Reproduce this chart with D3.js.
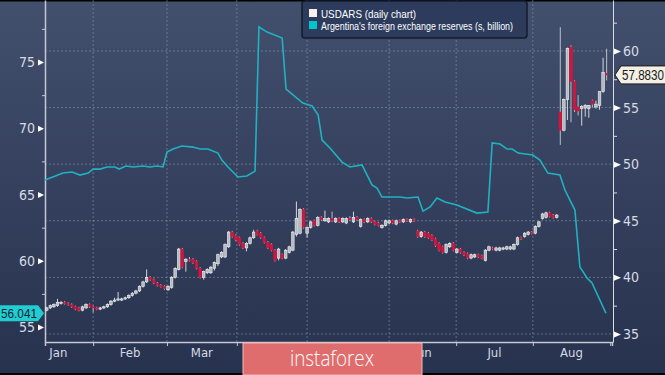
<!DOCTYPE html>
<html>
<head>
<meta charset="utf-8">
<script src="https://cdn.jsdelivr.net/npm/d3@7"></script>
<style>
  html, body { margin: 0; padding: 0; background: #000; }
  svg { display: block; }
  .ax text { font-family: "Liberation Sans Narrow", "DejaVu Sans Condensed", "Liberation Sans", sans-serif; fill: #d6dae2; }
</style>
</head>
<body>
<div id="chart"></div>
<script>
// USDARS daily candles [open, high, low, close], one row per trading day (right axis)
var usdars = [
  [37.1,37.4,37.0,37.3],[37.3,37.6,37.2,37.5],[37.4,37.7,37.3,37.6],[37.5,38.1,37.4,37.8],[37.7,37.9,37.6,37.8],
  [37.8,37.9,37.6,37.7],[37.7,37.8,37.5,37.6],[37.6,37.7,37.3,37.4],[37.4,37.5,37.1,37.2],[37.3,37.4,37.0,37.1],
  [37.1,37.5,37.0,37.4],[37.3,37.7,37.2,37.6],[37.6,37.7,37.3,37.4],[37.4,37.5,36.9,37.3],[37.3,37.4,37.1,37.2],
  [37.2,37.4,37.1,37.3],[37.3,37.5,37.2,37.4],[37.4,37.7,37.3,37.6],[37.6,38.0,37.5,37.9],[37.9,38.2,37.8,38.0],
  [38.0,38.7,37.9,38.1],[38.0,38.2,37.9,38.1],[38.1,38.3,38.0,38.2],[38.2,38.5,38.1,38.4],[38.4,38.7,38.3,38.6],
  [38.6,38.9,38.5,38.8],[38.8,39.3,38.7,39.2],[39.2,39.7,39.1,39.6],[39.6,40.7,39.5,40.0],[40.0,40.1,39.7,39.8],
  [39.8,39.9,39.4,39.5],[39.5,39.6,39.2,39.3],[39.3,39.4,39.1,39.2],[39.2,39.3,38.9,39.0],[38.9,39.3,38.8,39.2],
  [39.1,40.1,39.0,40.0],[40.0,40.9,39.9,40.8],[40.7,42.6,40.6,42.5],[42.5,42.6,40.8,40.9],[41.4,41.7,40.5,41.6],
  [41.6,41.8,41.4,41.5],[41.6,41.7,41.2,41.3],[41.4,41.5,40.7,40.8],[40.8,40.9,39.9,40.0],[40.0,40.6,39.8,40.5],
  [40.4,40.8,40.3,40.7],[40.4,41.0,40.3,40.9],[40.8,41.4,40.6,41.3],[41.2,42.1,41.0,42.0],[41.8,42.3,41.7,42.2],
  [41.8,43.0,41.7,42.9],[42.7,44.1,42.6,44.0],[44.0,44.1,43.5,43.6],[43.7,43.8,43.2,43.3],[43.5,43.6,42.8,42.9],
  [43.0,43.1,42.5,42.6],[42.6,43.1,42.3,43.0],[43.0,43.6,42.9,43.5],[43.5,44.2,43.4,44.0],[44.1,44.2,43.7,43.8],
  [43.9,44.0,43.4,43.5],[43.5,43.6,43.0,43.1],[43.1,43.2,42.5,42.6],[42.9,43.0,42.3,42.4],[42.4,42.5,41.4,41.5],
  [41.7,42.6,41.5,42.5],[42.0,42.1,41.6,41.7],[41.7,42.5,41.6,42.4],[42.2,42.8,42.1,42.7],[42.4,44.1,42.3,44.0],
  [43.8,46.7,43.6,45.2],[43.9,46.1,43.8,46.0],[46.0,46.1,44.3,44.4],[43.9,44.5,43.5,44.4],[44.4,45.0,44.3,44.9],
  [45.0,45.1,44.5,44.6],[44.6,45.4,44.5,45.3],[45.3,45.4,45.0,45.1],[45.0,45.9,44.9,45.2],[44.9,45.3,44.8,45.2],
  [45.2,45.8,44.9,45.0],[44.9,45.3,44.8,45.2],[45.2,45.3,44.8,44.9],[44.9,45.3,44.8,45.2],[44.8,45.3,44.7,45.2],
  [45.2,45.4,45.0,45.1],[44.9,45.8,44.8,45.3],[45.3,45.4,45.0,45.1],[44.5,45.2,44.4,45.1],[45.1,45.2,44.8,44.9],
  [44.9,45.3,44.8,45.2],[45.2,45.3,44.8,44.9],[44.9,45.0,44.6,44.7],[44.8,44.9,44.5,44.6],[44.4,44.7,44.3,44.6],
  [44.6,45.1,44.5,45.0],[44.8,45.1,44.7,45.0],[45.0,45.1,44.7,44.8],[44.7,45.1,44.6,45.0],[45.0,45.1,44.8,44.9],
  [44.9,45.2,44.8,45.1],[45.1,45.2,44.9,45.0],[44.9,45.2,44.8,45.1],[45.1,45.2,44.9,45.0],[44.1,44.2,43.5,43.6],
  [43.6,44.1,43.5,44.0],[44.0,44.1,43.5,43.6],[43.9,44.0,43.4,43.5],[43.7,43.8,43.2,43.3],[43.4,43.5,42.7,42.8],
  [43.0,43.1,42.3,42.4],[42.7,42.8,42.1,42.2],[42.2,43.0,42.1,42.9],[42.7,43.1,42.6,43.0],[43.0,43.1,42.3,42.4],
  [42.2,42.6,42.1,42.5],[42.5,42.6,42.1,42.2],[42.2,42.3,41.9,42.0],[42.1,42.2,41.6,41.7],[41.7,42.1,41.6,42.0],
  [41.8,42.1,41.7,42.0],[42.0,42.1,41.7,41.8],[41.9,42.0,41.6,41.7],[41.5,42.5,41.4,42.4],[42.4,42.8,42.3,42.7],
  [42.6,42.7,42.4,42.5],[42.4,42.7,42.3,42.6],[42.4,42.7,42.3,42.6],[42.5,42.7,42.4,42.6],[42.5,42.8,42.4,42.7],
  [42.5,42.8,42.4,42.7],[42.5,43.0,42.4,42.9],[42.9,43.6,42.8,43.5],[43.5,43.6,43.3,43.4],[43.6,44.0,43.5,43.9],
  [43.8,44.1,43.7,44.0],[44.0,44.1,43.8,43.9],[43.9,44.6,43.8,44.5],[44.5,45.0,44.4,44.9],[45.2,45.7,45.1,45.6],
  [45.3,45.8,45.2,45.7],[45.7,45.8,45.3,45.4],[45.5,45.6,45.2,45.3],[45.3,45.6,45.2,45.5],
  // August devaluation
  [54.6,62.1,51.7,53.0],[53.0,55.8,52.9,55.7],[55.7,60.3,53.9,60.2],[60.35,60.5,53.7,57.3],[57.3,57.4,54.6,54.8],
  [55.05,56.1,54.3,54.7],[54.9,55.2,53.4,55.1],[54.95,55.3,54.2,55.2],[54.9,55.2,54.1,55.2],[55.6,55.7,55.0,55.3],
  [55.05,55.6,54.9,55.3],[55.2,56.4,54.8,56.4],[56.4,59.4,56.3,58.1],[58.0,60.2,57.4,57.883]
];

// Argentina's FX reserves (left axis, USD bn) at trading-day positions
var resDay = [0,2.2,5.0,7.6,9.8,12.1,13.5,15.4,17.4,19.6,20.8,22.7,24.7,27.5,29.4,31.4,33.1,34.2,35.9,38.4,
  41.5,43.5,45.7,48.5,49.6,51.3,54.1,56.6,58.9,60.0,62.3,66.5,67.6,72.3,74.9,76.6,77.7,79.9,83.3,85.5,
  88.9,91.7,93.1,94.5,99.6,101.5,104.6,106.0,108.0,109.9,112.2,115.5,121.1,124.2,125.4,127.6,129.6,131.0,132.7,136.8,
  138.8,141.0,144.4,145.8,148.6,150.0,152.0,153.4,157.3];
var resVal = [66.09,66.32,66.62,66.70,66.47,66.62,66.92,66.92,67.08,67.08,66.92,67.15,67.08,67.15,67.08,67.15,67.08,68.2,68.43,68.66,
  68.58,68.43,68.43,68.13,67.6,67.08,66.32,66.40,66.77,77.64,77.26,76.81,72.96,71.9,71.68,71.0,69.11,68.51,67.45,67.08,
  67.23,65.72,65.49,64.81,64.81,64.74,64.81,63.75,64.06,64.74,64.43,64.21,63.60,63.68,68.89,68.81,68.43,68.43,68.13,67.98,
  67.6,66.62,66.47,65.34,63.83,59.53,58.7,58.32,56.04];

// axes
var dayDomain = [0, 159];
var leftDomain = [53.87, 79.68];
var rightDomain = [34.29, 64.5];
var leftTicks = [55, 60, 65, 70, 75];
var leftMinor = [57.5, 62.5, 67.5, 72.5, 77.5];
var rightTicks = [35, 40, 45, 50, 55, 60];
var rightMinor = [37.5, 42.5, 47.5, 52.5, 57.5, 62.5];
var monthTicks = [13.5, 34.2, 53.8, 73.5, 96.5, 115.3, 136.8, 158.5];
// Apr and May sit under the watermark in the original, so they have no label
var monthLabels = ["Jan", "Feb", "Mar", "", "", "Jun", "Jul", "Aug"];
var monthStarts = [-6, 13.5, 34.2, 53.8, 73.5, 96.5, 115.3, 136.8, 158.5];

var lastReserve = "56.041";
var lastUsdars = "57.8830";

// Set up the chart
var svgWidth = 665;
var svgHeight = 375;
var margin = { top: 0, right: 52, bottom: 33, left: 45 };
var width = svgWidth - margin.left - margin.right;
var height = svgHeight - margin.top - margin.bottom;

var svg = d3.select("#chart")
  .append("svg")
  .attr("width", svgWidth)
  .attr("height", svgHeight);

// background gradient
var grad = svg.append("defs").append("linearGradient")
  .attr("id", "bg").attr("x1", 0).attr("y1", 0).attr("x2", 0).attr("y2", 1);
grad.append("stop").attr("offset", "0%").attr("stop-color", "#424f6d");
grad.append("stop").attr("offset", "100%").attr("stop-color", "#27324e");
svg.append("rect").attr("width", svgWidth).attr("height", svgHeight).attr("fill", "url(#bg)");
svg.append("rect").attr("width", svgWidth).attr("height", 1.5).attr("fill", "#000");
svg.append("rect").attr("y", 373).attr("width", svgWidth).attr("height", 2).attr("fill", "#000");

var chartGroup = svg.append("g")
  .attr("transform", `translate(${margin.left}, ${margin.top})`);

// scales
var xScale = d3.scaleLinear().domain(dayDomain).range([0, width - 1]);
var yLeft = d3.scaleLinear().domain(leftDomain).range([height, 0]);
var yRight = d3.scaleLinear().domain(rightDomain).range([height, 0]);

// dotted grid
chartGroup.append("g").selectAll("line")
  .data(rightTicks)
  .enter()
  .append("line")
  .attr("x1", 0).attr("x2", width)
  .attr("y1", d => yRight(d)).attr("y2", d => yRight(d))
  .attr("stroke", "#8d9ab3").attr("stroke-opacity", 0.55)
  .attr("stroke-dasharray", "2,2");

chartGroup.append("g").selectAll("line")
  .data(monthTicks.slice(0, -1))
  .enter()
  .append("line")
  .attr("x1", d => xScale(d)).attr("x2", d => xScale(d))
  .attr("y1", 0).attr("y2", height)
  .attr("stroke", "#8d9ab3").attr("stroke-opacity", 0.55)
  .attr("stroke-dasharray", "2,2");

// left axis
var leftAxis = chartGroup.append("g")
  .attr("class", "ax")
  .call(d3.axisLeft(yLeft).tickValues(leftTicks).tickSize(0).tickPadding(10));
leftAxis.select(".domain").attr("stroke", "#c3c8d2").attr("stroke-width", 1.5);
leftAxis.selectAll(".tick").append("path").attr("d", "M-7,-3L-1,0L-7,3Z").attr("fill", "#fff");
leftAxis.selectAll(".tick text").attr("font-size", 14);

var leftMinorAxis = chartGroup.append("g")
  .call(d3.axisLeft(yLeft).tickValues(leftMinor).tickSize(3).tickFormat(""));
leftMinorAxis.select(".domain").remove();
leftMinorAxis.selectAll("line").attr("stroke", "#c3c8d2");

// right axis
var rightAxis = chartGroup.append("g")
  .attr("class", "ax")
  .attr("transform", `translate(${width}, 0)`)
  .call(d3.axisRight(yRight).tickValues(rightTicks).tickSize(0).tickPadding(10));
rightAxis.select(".domain").attr("stroke", "#d8dce4");
rightAxis.selectAll(".tick").append("path").attr("d", "M1,-3L8,0L1,3Z").attr("fill", "#fff");
rightAxis.selectAll(".tick text").attr("font-size", 14);

var rightMinorAxis = chartGroup.append("g")
  .attr("transform", `translate(${width}, 0)`)
  .call(d3.axisRight(yRight).tickValues(rightMinor).tickSize(4).tickFormat(""));
rightMinorAxis.select(".domain").remove();
rightMinorAxis.selectAll("line").attr("stroke", "#d8dce4");

// bottom axis
var bottomAxis = chartGroup.append("g")
  .attr("class", "ax")
  .attr("transform", `translate(0, ${height})`)
  .call(d3.axisBottom(xScale).tickValues(monthTicks).tickSize(4).tickFormat(""));
bottomAxis.select(".domain").attr("stroke", "#c3c8d2").attr("stroke-width", 1.5);
bottomAxis.selectAll("line").attr("stroke", "#c3c8d2");

bottomAxis.selectAll(".month")
  .data(monthLabels)
  .enter()
  .filter(d => d !== "")
  .append("text")
  .attr("class", "month")
  .attr("x", d => {
    var i = monthLabels.indexOf(d);
    return xScale((monthStarts[i] + monthStarts[i + 1]) / 2);
  })
  .attr("y", 15)
  .attr("text-anchor", "middle")
  .attr("font-size", 13)
  .text(d => d);

// reserves line
var line = d3.line()
  .x((d, i) => xScale(resDay[i]))
  .y(d => yLeft(d));

chartGroup.append("path")
  .datum(resVal)
  .attr("d", line)
  .attr("fill", "none")
  .attr("stroke", "#20b2c0")
  .attr("stroke-width", 1.6);

// candles
var candleW = 2.6;
var candlesGroup = chartGroup.append("g")
  .selectAll("g")
  .data(usdars)
  .enter()
  .append("g");

candlesGroup.append("line")
  .attr("x1", (d, i) => xScale(i + 0.5))
  .attr("x2", (d, i) => xScale(i + 0.5))
  .attr("y1", d => yRight(d[1]))
  .attr("y2", d => yRight(d[2]))
  .attr("stroke", d => d[3] >= d[0] ? "#e4e6ea" : "#c9ccd3")
  .attr("stroke-width", 0.9);

candlesGroup.append("rect")
  .attr("x", (d, i) => xScale(i + 0.5) - candleW / 2)
  .attr("y", d => yRight(Math.max(d[0], d[3])))
  .attr("width", candleW)
  .attr("height", d => Math.max(1.2, Math.abs(yRight(d[0]) - yRight(d[3]))))
  .attr("fill", d => d[3] >= d[0] ? "#b4b8bf" : "#d0163f")
  .attr("stroke", d => d[3] >= d[0] ? "#f2f3f5" : "#d0163f")
  .attr("stroke-width", 0.6);

// last value tags
var ly = yLeft(resVal[resVal.length - 1]);
svg.append("path")
  .attr("d", `M0,${ly - 8}H38L44,${ly}L38,${ly + 8}H0Z`)
  .attr("fill", "#22cdd2");
svg.append("text")
  .attr("x", 1).attr("y", ly + 5)
  .attr("font-family", "Liberation Sans, Arial, sans-serif")
  .attr("font-size", 13.5)
  .attr("fill", "#0e2434")
  .attr("textLength", 36).attr("lengthAdjust", "spacingAndGlyphs")
  .text(lastReserve);

var ry = yRight(usdars[usdars.length - 1][3]);
svg.append("path")
  .attr("d", `M615,${ry}L621,${ry - 9}H666V${ry + 9}H621Z`)
  .attr("fill", "#f4f0e6")
  .attr("stroke", "#1b1b1b")
  .attr("stroke-width", 1);
svg.append("text")
  .attr("x", 622).attr("y", ry + 5)
  .attr("font-family", "Liberation Sans, Arial, sans-serif")
  .attr("font-size", 14)
  .attr("fill", "#1a1a1a")
  .attr("textLength", 42).attr("lengthAdjust", "spacingAndGlyphs")
  .text(lastUsdars);

// legend
var legend = svg.append("g");
legend.append("rect")
  .attr("x", 302).attr("y", 1).attr("width", 225).attr("height", 37).attr("rx", 3)
  .attr("fill", "#2d3c5d").attr("stroke", "#141b2c").attr("stroke-width", 1.5);
legend.append("rect").attr("x", 309).attr("y", 9).attr("width", 8).attr("height", 8).attr("fill", "#fbefec");
legend.append("rect").attr("x", 309).attr("y", 21).attr("width", 8).attr("height", 8).attr("fill", "#00c6cc");
legend.append("text")
  .attr("x", 321).attr("y", 17.5)
  .attr("font-family", "Liberation Sans, Arial, sans-serif")
  .attr("font-size", 11).attr("fill", "#fff")
  .attr("textLength", 95).attr("lengthAdjust", "spacingAndGlyphs")
  .text("USDARS (daily chart)");
legend.append("text")
  .attr("x", 321).attr("y", 30)
  .attr("font-family", "Liberation Sans, Arial, sans-serif")
  .attr("font-size", 10.5).attr("fill", "#fff")
  .attr("textLength", 192).attr("lengthAdjust", "spacingAndGlyphs")
  .text("Argentina's foreign exchange reserves (s, billion)");

// watermark
svg.append("rect")
  .attr("x", 243).attr("y", 343).attr("width", 179).attr("height", 32)
  .attr("fill", "#e06d6d").attr("stroke", "#f4b9b9").attr("stroke-width", 1);
svg.append("text")
  .attr("x", 332).attr("y", 366)
  .attr("text-anchor", "middle")
  .attr("font-family", "Open Sans, Liberation Sans, sans-serif")
  .attr("font-weight", 300)
  .attr("font-size", 22).attr("fill", "#fff")
  .attr("textLength", 84).attr("lengthAdjust", "spacingAndGlyphs")
  .text("instaforex");
</script>
</body>
</html>
